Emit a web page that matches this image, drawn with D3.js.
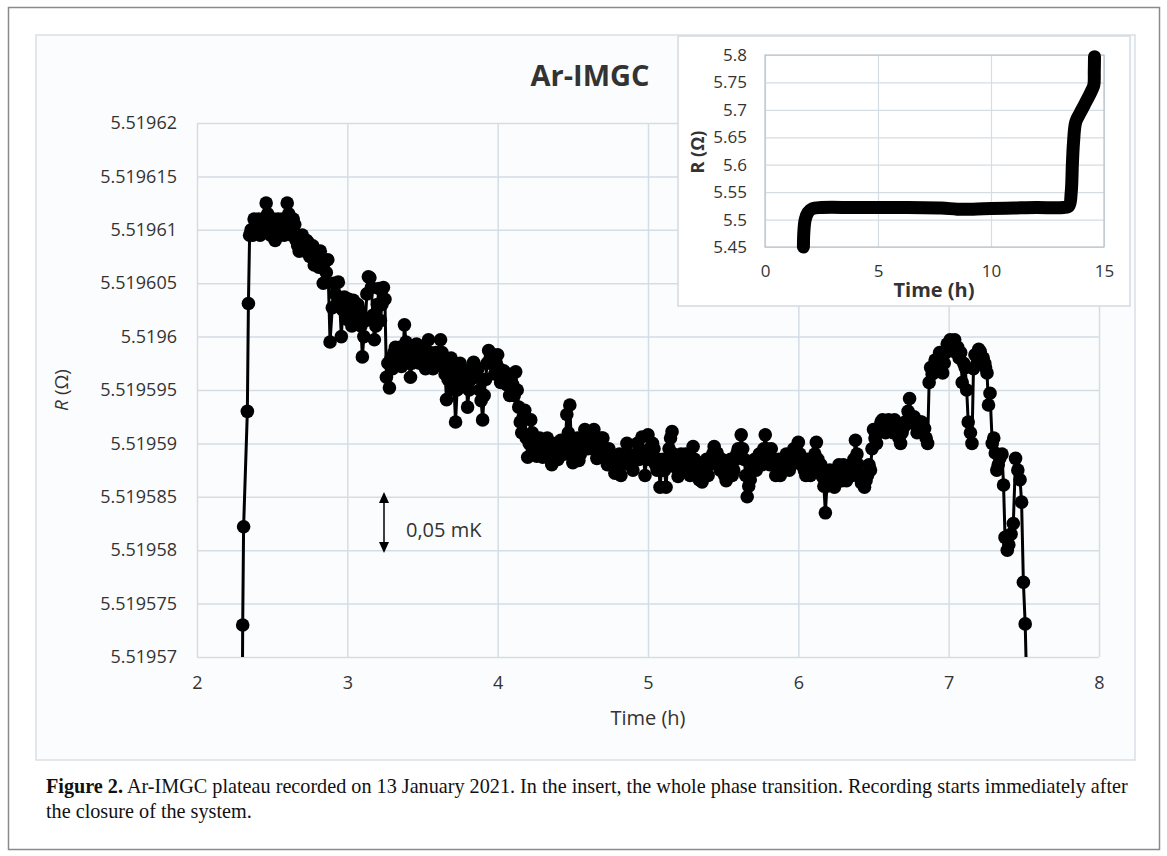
<!DOCTYPE html>
<html>
<head>
<meta charset="utf-8">
<script src="https://d3js.org/d3.v7.min.js"></script>
<style>
body { margin: 0; background: #fff; }
svg { display: block; }
</style>
</head>
<body>
<div id="chart"></div>
<script>
// plateau record, time in hours
var timeH = [
  2.300, 2.304, 2.310, 2.335, 2.342, 2.350,
  2.36, 2.37, 2.38, 2.39, 2.40, 2.41, 2.42, 2.43, 2.44, 2.45,
  2.46, 2.47, 2.48, 2.49, 2.50, 2.51, 2.52, 2.53, 2.54, 2.55,
  2.56, 2.57, 2.58, 2.59, 2.60, 2.61, 2.62, 2.63, 2.64, 2.65,
  2.66, 2.67, 2.68, 2.69, 2.70, 2.71, 2.72, 2.73, 2.74, 2.75,
  2.76, 2.77, 2.78, 2.79, 2.80, 2.81, 2.82, 2.83, 2.84, 2.85,
  2.86, 2.87, 2.885,
  2.90, 2.91, 2.92, 2.93, 2.94, 2.95, 2.96, 2.97, 2.98, 2.99,
  3.00, 3.01, 3.02, 3.03, 3.04, 3.05, 3.06, 3.07, 3.08, 3.09,
  3.10, 3.11, 3.12, 3.13, 3.14, 3.15, 3.16, 3.17, 3.18, 3.19,
  3.20, 3.21, 3.22, 3.23, 3.24, 3.25, 3.26, 3.27, 3.28, 3.29,
  3.30, 3.31, 3.32, 3.33, 3.34, 3.35, 3.36, 3.37, 3.38, 3.39,
  3.40, 3.41, 3.42, 3.43, 3.44, 3.45, 3.46, 3.47, 3.48, 3.49,
  3.50, 3.51, 3.52, 3.53, 3.54, 3.55, 3.56, 3.57, 3.58, 3.59,
  3.60, 3.61, 3.62, 3.63, 3.64, 3.65, 3.66, 3.67, 3.68, 3.69,
  3.70, 3.71, 3.72, 3.73, 3.74, 3.75, 3.76, 3.77, 3.78, 3.79,
  3.80, 3.81, 3.82, 3.83, 3.84, 3.85, 3.86, 3.87, 3.88, 3.89,
  3.90, 3.91, 3.92, 3.93, 3.94, 3.95, 3.96, 3.97, 3.98, 3.99,
  4.00, 4.01, 4.02, 4.03, 4.04, 4.05, 4.06, 4.07, 4.08, 4.09,
  4.10, 4.11, 4.12, 4.13, 4.14, 4.15, 4.16, 4.17, 4.18, 4.19,
  4.20, 4.21, 4.22, 4.23, 4.24, 4.25, 4.26, 4.27, 4.28, 4.29,
  4.30, 4.31, 4.32, 4.33, 4.34, 4.35, 4.36, 4.37, 4.38, 4.39,
  4.40, 4.41, 4.42, 4.43, 4.44, 4.45, 4.46, 4.47, 4.48, 4.49,
  4.50, 4.51, 4.52, 4.53, 4.54, 4.55, 4.56, 4.57, 4.58, 4.59,
  4.60, 4.61, 4.62, 4.63, 4.64, 4.65, 4.66, 4.67, 4.68, 4.69,
  4.70, 4.71, 4.72, 4.73, 4.74, 4.75, 4.76, 4.77, 4.78, 4.79,
  4.80, 4.81, 4.82, 4.83, 4.84, 4.85, 4.86, 4.87, 4.88, 4.89,
  4.90, 4.91, 4.92, 4.93, 4.94, 4.95, 4.96, 4.97, 4.98, 4.99,
  5.00, 5.01, 5.02, 5.03, 5.04, 5.05, 5.06, 5.07, 5.08, 5.09,
  5.10, 5.11, 5.12, 5.13, 5.14, 5.15, 5.16, 5.17, 5.18, 5.19,
  5.20, 5.21, 5.22, 5.23, 5.24, 5.25, 5.26, 5.27, 5.28, 5.29,
  5.30, 5.31, 5.32, 5.33, 5.34, 5.35, 5.36, 5.37, 5.38, 5.39,
  5.40, 5.41, 5.42, 5.43, 5.44, 5.45, 5.46, 5.47, 5.48, 5.49,
  5.50, 5.51, 5.52, 5.53, 5.54, 5.55, 5.56, 5.57, 5.58, 5.59,
  5.60, 5.61, 5.62, 5.63, 5.64, 5.65, 5.66, 5.67, 5.68, 5.69,
  5.70, 5.71, 5.72, 5.73, 5.74, 5.75, 5.76, 5.77, 5.78, 5.79,
  5.80, 5.81, 5.82, 5.83, 5.84, 5.85, 5.86, 5.87, 5.88, 5.89,
  5.90, 5.91, 5.92, 5.93, 5.94, 5.95, 5.96, 5.97, 5.98, 5.99,
  6.00, 6.01, 6.02, 6.03, 6.04, 6.05, 6.06, 6.07, 6.08, 6.09,
  6.10, 6.11, 6.12, 6.13, 6.14, 6.15, 6.16, 6.17, 6.18, 6.19,
  6.20, 6.21, 6.22, 6.23, 6.24, 6.25, 6.26, 6.27, 6.28, 6.29,
  6.30, 6.31, 6.32, 6.33, 6.34, 6.35, 6.36, 6.37, 6.38, 6.39,
  6.40, 6.41, 6.42, 6.43, 6.44, 6.45, 6.46, 6.47, 6.48, 6.49,
  6.50, 6.51, 6.52, 6.53, 6.54, 6.55, 6.56, 6.57, 6.58, 6.59,
  6.60, 6.61, 6.62, 6.63, 6.64, 6.65, 6.66, 6.67, 6.68, 6.69,
  6.70, 6.71, 6.72, 6.73, 6.74, 6.75, 6.76, 6.77, 6.78, 6.79,
  6.80, 6.81, 6.82, 6.83, 6.84, 6.85, 6.86,
  6.87, 6.88, 6.89, 6.90, 6.91, 6.92, 6.93, 6.94, 6.95, 6.96, 6.97, 6.98, 6.99,
  7.00, 7.01, 7.02, 7.03, 7.04, 7.05, 7.06, 7.07, 7.08,
  7.09, 7.10, 7.11, 7.12, 7.13, 7.145, 7.155, 7.165, 7.175, 7.19,
  7.20, 7.21, 7.22, 7.23, 7.24, 7.245, 7.255, 7.265, 7.275, 7.29,
  7.30, 7.31, 7.32, 7.33, 7.34, 7.355, 7.365, 7.375, 7.39, 7.40,
  7.415, 7.43, 7.445, 7.46, 7.475, 7.485, 7.497, 7.509, 7.525
];

// resistance in ohm, same order as timeH
var resistance = [
  5.519562, 5.519573, 5.5195822, 5.519593, 5.5196031, 5.5196095,
  5.51961, 5.5196095, 5.519611, 5.5196105, 5.51961, 5.519611, 5.5196095, 5.51961, 5.519611, 5.5196105,
  5.5196125, 5.5196115, 5.519611, 5.5196095, 5.51961, 5.519611, 5.519609, 5.51961, 5.519611, 5.5196095,
  5.51961, 5.519611, 5.5196095, 5.5196105, 5.5196125, 5.5196115, 5.51961, 5.5196095, 5.519611, 5.5196105,
  5.519609, 5.5196085, 5.519608, 5.519609, 5.5196095, 5.5196085, 5.519608, 5.519609, 5.5196088, 5.5196075,
  5.5196075, 5.5196085, 5.5196067, 5.5196078, 5.5196075, 5.5196065, 5.519608, 5.5196065, 5.519605, 5.519607,
  5.519606, 5.5196072, 5.5195995,
  5.5196027, 5.519605, 5.519604, 5.519603, 5.5196051, 5.519603, 5.5196, 5.5196025, 5.5196037, 5.519602,
  5.5196016, 5.5196035, 5.519602, 5.519601, 5.5196034, 5.5196025, 5.5196017, 5.519603, 5.5196025, 5.519601,
  5.5195981, 5.5196, 5.5196015, 5.519604, 5.5196056, 5.5196055, 5.5196046, 5.519602, 5.5195997, 5.519601,
  5.519603, 5.5196045, 5.5196015, 5.519603, 5.5196046, 5.5196035, 5.5195962, 5.5195975, 5.5195952, 5.519598,
  5.519597, 5.5195985, 5.519599, 5.519598, 5.5195978, 5.519599, 5.5195972, 5.5195985, 5.5196011, 5.5195995,
  5.5195985, 5.5195975, 5.5195962, 5.5195975, 5.519598, 5.519599, 5.5195993, 5.519598, 5.5195975, 5.519599,
  5.5195985, 5.5195975, 5.519597, 5.5195985, 5.5195997, 5.5195985, 5.519598, 5.519597, 5.5195972, 5.5195985,
  5.5195985, 5.5195975, 5.5195997, 5.5195985, 5.5195978, 5.5195965, 5.5195941, 5.519596, 5.519597, 5.519598,
  5.5195965, 5.519595, 5.519592, 5.519595, 5.519596, 5.5195975, 5.519597, 5.519596, 5.5195955, 5.5195965,
  5.5195934, 5.519595, 5.519596, 5.519597, 5.5195976, 5.5195965, 5.5195962, 5.519597, 5.519595, 5.519594,
  5.5195922, 5.5195945, 5.519596, 5.5195975, 5.5195987, 5.519598, 5.5195975, 5.5195983, 5.5195965, 5.5195975,
  5.5195983, 5.519597, 5.5195957, 5.5195965, 5.5195968, 5.519596, 5.5195955, 5.5195965, 5.5195945, 5.5195955,
  5.5195955, 5.5195945, 5.5195967, 5.519595, 5.5195934, 5.519592, 5.519591, 5.5195925, 5.5195931, 5.5195905,
  5.5195887, 5.51959, 5.5195922, 5.519591, 5.51959, 5.5195895, 5.5195888, 5.5195895, 5.5195905, 5.5195895,
  5.5195887, 5.5195895, 5.5195902, 5.5195905, 5.519589, 5.5195885, 5.519588, 5.519589, 5.5195895, 5.51959,
  5.5195885, 5.519589, 5.5195903, 5.5195895, 5.519589, 5.51959, 5.5195927, 5.519591, 5.5195936, 5.51959,
  5.5195882, 5.519589, 5.5195895, 5.5195905, 5.5195884, 5.519589, 5.51959, 5.5195905, 5.5195913, 5.51959,
  5.5195895, 5.5195908, 5.5195903, 5.5195895, 5.5195913, 5.51959, 5.5195886, 5.519589, 5.5195894, 5.5195905,
  5.5195905, 5.5195895, 5.5195885, 5.519588, 5.5195895, 5.519589, 5.519588, 5.5195885, 5.5195872, 5.5195878,
  5.5195885, 5.519589, 5.519587, 5.519588, 5.519589, 5.5195885, 5.51959, 5.519589, 5.519588, 5.5195885,
  5.5195875, 5.5195885, 5.519589, 5.51959, 5.5195885, 5.519589, 5.5195906, 5.519589, 5.519587, 5.5195885,
  5.5195908, 5.5195895, 5.5195885, 5.51959, 5.5195895, 5.519588, 5.5195875, 5.5195885, 5.5195859, 5.5195875,
  5.5195885, 5.5195875, 5.5195859, 5.519588, 5.5195895, 5.5195905, 5.5195911, 5.519589, 5.5195878, 5.5195885,
  5.5195869, 5.519588, 5.519589, 5.5195885, 5.5195875, 5.519589, 5.5195885, 5.5195875, 5.519587, 5.519588,
  5.5195897, 5.5195885, 5.519588, 5.5195875, 5.5195866, 5.5195875, 5.5195864, 5.519587, 5.519588, 5.5195885,
  5.519587, 5.519588, 5.5195885, 5.519589, 5.5195897, 5.5195885, 5.5195891, 5.519588, 5.5195875, 5.5195885,
  5.519588, 5.519587, 5.5195865, 5.5195875, 5.519588, 5.5195885, 5.519587, 5.5195875, 5.5195885, 5.519589,
  5.5195895, 5.519589, 5.5195908, 5.5195895, 5.5195885, 5.519587, 5.519585, 5.519586, 5.5195866, 5.5195875,
  5.519588, 5.5195885, 5.5195875, 5.519588, 5.519589, 5.5195885, 5.519588, 5.5195895, 5.5195908, 5.5195895,
  5.5195887, 5.519588, 5.5195895, 5.5195885, 5.519588, 5.519587, 5.5195875, 5.5195885, 5.519587, 5.5195875,
  5.5195885, 5.519588, 5.519589, 5.5195885, 5.5195875, 5.519588, 5.5195885, 5.5195895, 5.519589, 5.5195885,
  5.5195901, 5.519589, 5.519588, 5.5195885, 5.5195875, 5.519587, 5.5195885, 5.519588, 5.519587, 5.5195875,
  5.5195885, 5.519589, 5.5195901, 5.5195885, 5.5195875, 5.519588, 5.5195869, 5.519586, 5.5195835, 5.519586,
  5.519587, 5.5195875, 5.5195865, 5.519587, 5.5195859, 5.5195865, 5.5195875, 5.519588, 5.519587, 5.5195865,
  5.519588, 5.5195875, 5.5195865, 5.519587, 5.5195875, 5.519588, 5.519587, 5.5195885, 5.5195903, 5.519589,
  5.519588, 5.519587, 5.5195863, 5.519587, 5.5195859, 5.5195865, 5.519587, 5.519588, 5.5195875, 5.5195895,
  5.5195913, 5.5195905, 5.51959, 5.519591, 5.5195915, 5.519592, 5.5195922, 5.5195915, 5.519591, 5.5195915,
  5.5195922, 5.519592, 5.5195915, 5.519591, 5.5195922, 5.5195915, 5.519591, 5.5195905, 5.51959, 5.519591,
  5.5195915, 5.519592, 5.519592, 5.519593, 5.5195942, 5.5195925, 5.5195919, 5.5195925, 5.519592, 5.519591,
  5.5195915, 5.519592, 5.519592, 5.5195915, 5.5195914, 5.5195905, 5.51959,
  5.5195957, 5.5195971, 5.5195965, 5.5195966, 5.5195978, 5.5195975, 5.519597, 5.5195985, 5.519598, 5.5195966, 5.5195975, 5.5195985, 5.5195993,
  5.519599, 5.5195997, 5.5195995, 5.5195988, 5.5195997, 5.5195985, 5.519599, 5.519598, 5.5195985,
  5.5195957, 5.5195975, 5.5195971, 5.519595, 5.519592, 5.519591, 5.51959, 5.519597, 5.5195983, 5.5195975,
  5.5195988, 5.5195986, 5.5195978, 5.519598, 5.5195975, 5.5195971, 5.5195966, 5.5195936, 5.5195947, 5.51959,
  5.5195905, 5.5195891, 5.5195875, 5.519588, 5.5195886, 5.519589, 5.5195861, 5.5195812, 5.51958, 5.5195805,
  5.5195815, 5.5195825, 5.5195886, 5.5195875, 5.5195866, 5.5195845, 5.519577, 5.5195731, 5.519564
];

var xTicks = [2, 3, 4, 5, 6, 7, 8];
var yTicks = [5.51957, 5.519575, 5.51958, 5.519585, 5.51959, 5.519595, 5.5196, 5.519605, 5.51961, 5.519615, 5.51962];

// insert: whole phase transition
var insetTime = [1.70, 1.72, 1.78, 1.90, 2.10, 2.50, 4.00, 6.00, 7.80, 8.50, 9.20, 10.00, 11.00, 12.00, 13.20, 13.45, 13.55, 13.60, 13.65, 13.75, 13.95, 14.13, 14.43, 14.55, 14.57, 14.58];
var insetR = [5.450, 5.478, 5.500, 5.513, 5.520, 5.522, 5.522, 5.522, 5.521, 5.519, 5.519, 5.520, 5.521, 5.522, 5.522, 5.525, 5.550, 5.600, 5.640, 5.678, 5.695, 5.709, 5.733, 5.745, 5.770, 5.797];
var insetXTicks = [0, 5, 10, 15];
var insetYTicks = [5.45, 5.5, 5.55, 5.6, 5.65, 5.7, 5.75, 5.8];

var captionLines = [
  "Ar-IMGC plateau recorded on 13 January 2021. In the insert, the whole phase transition. Recording starts immediately after",
  "the closure of the system."
];

var W = 1167, H = 856;
var gridColor = '#d5dde4';
var textColor = '#333';
var sans = "'Open Sans', sans-serif";

var svg = d3.select('#chart').append('svg')
  .attr('width', W)
  .attr('height', H);

// figure frame and chart panel
svg.append('rect')
  .attr('x', 8.5).attr('y', 7.5)
  .attr('width', 1151).attr('height', 842)
  .attr('fill', '#fff')
  .attr('stroke', '#8a8a8a')
  .attr('stroke-width', 1.5);

svg.append('rect')
  .attr('x', 36).attr('y', 35)
  .attr('width', 1099).attr('height', 725)
  .attr('fill', '#fbfcfd')
  .attr('stroke', '#d9e0e6')
  .attr('stroke-width', 1.5);

var plot = {left: 197, right: 1099, top: 123, bottom: 657};

var x = d3.scaleLinear().domain([2, 8]).range([plot.left, plot.right]);
var y = d3.scaleLinear().domain([5.51957, 5.51962]).range([plot.bottom, plot.top]);

var yAxis = svg.append('g')
  .attr('transform', 'translate(' + plot.left + ',0)')
  .call(d3.axisLeft(y)
    .tickValues(yTicks)
    .tickSize(-(plot.right - plot.left))
    .tickPadding(20)
    .tickFormat(d3.format('.6~f')));

var xAxis = svg.append('g')
  .attr('transform', 'translate(0,' + plot.bottom + ')')
  .call(d3.axisBottom(x)
    .tickValues(xTicks)
    .tickSize(-(plot.bottom - plot.top))
    .tickPadding(19)
    .tickFormat(d3.format('d')));

[xAxis, yAxis].forEach(function(ax){
  ax.select('.domain').remove();
  ax.selectAll('.tick line')
    .attr('stroke', gridColor)
    .attr('stroke-width', 1.5);
  ax.selectAll('.tick text')
    .attr('fill', textColor)
    .style('font-family', sans)
    .style('font-size', '18px');
});

// data, clipped to the plot area
svg.append('clipPath').attr('id', 'clip')
  .append('rect')
  .attr('x', plot.left).attr('y', plot.top)
  .attr('width', plot.right - plot.left)
  .attr('height', plot.bottom - plot.top);

var points = d3.zip(timeH, resistance).map(function(p){ return {t: p[0], r: p[1]}; });

var dataLayer = svg.append('g').attr('clip-path', 'url(#clip)');

dataLayer.append('path')
  .datum(points)
  .attr('fill', 'none')
  .attr('stroke', '#000')
  .attr('stroke-width', 3)
  .attr('stroke-linejoin', 'round')
  .attr('d', d3.line()
    .x(function(d){ return x(d.t); })
    .y(function(d){ return y(d.r); }));

dataLayer.selectAll('circle.pt')
  .data(points)
  .enter()
  .append('circle')
  .attr('class', 'pt')
  .attr('cx', function(d){ return x(d.t); })
  .attr('cy', function(d){ return y(d.r); })
  .attr('r', 6.8)
  .attr('fill', '#000');

// axis titles and chart title
svg.append('text')
  .attr('x', (plot.left + plot.right) / 2)
  .attr('y', 725)
  .attr('text-anchor', 'middle')
  .attr('fill', textColor)
  .style('font-family', sans)
  .style('font-size', '20px')
  .text('Time (h)');

var yTitle = svg.append('text')
  .attr('transform', 'translate(68,390) rotate(-90)')
  .attr('text-anchor', 'middle')
  .attr('fill', textColor)
  .style('font-family', sans)
  .style('font-size', '19px');
yTitle.append('tspan').style('font-style', 'italic').text('R');
yTitle.append('tspan').text(' (Ω)');

svg.append('text')
  .attr('x', 590)
  .attr('y', 86)
  .attr('text-anchor', 'middle')
  .attr('fill', textColor)
  .style('font-family', sans)
  .style('font-size', '29px')
  .style('font-weight', 'bold')
  .text('Ar-IMGC');

// 0,05 mK scale arrow
var arrowX = 384;
svg.append('line')
  .attr('x1', arrowX).attr('x2', arrowX)
  .attr('y1', 500).attr('y2', 546)
  .attr('stroke', '#000')
  .attr('stroke-width', 1.5);
svg.append('path')
  .attr('d', 'M' + arrowX + ',492 L' + (arrowX - 5) + ',503 L' + (arrowX + 5) + ',503 Z')
  .attr('fill', '#000');
svg.append('path')
  .attr('d', 'M' + arrowX + ',553 L' + (arrowX - 5) + ',542 L' + (arrowX + 5) + ',542 Z')
  .attr('fill', '#000');
svg.append('text')
  .attr('x', 406)
  .attr('y', 537)
  .attr('fill', textColor)
  .style('font-family', sans)
  .style('font-size', '20px')
  .text('0,05 mK');

// insert chart
var ins = {left: 765, right: 1104, top: 55, bottom: 247};

svg.append('rect')
  .attr('x', 678).attr('y', 36)
  .attr('width', 452).attr('height', 270)
  .attr('fill', '#fff')
  .attr('stroke', '#d3dae1')
  .attr('stroke-width', 1.5);

var ix = d3.scaleLinear().domain([0, 15]).range([ins.left, ins.right]);
var iy = d3.scaleLinear().domain([5.45, 5.8]).range([ins.bottom, ins.top]);

var iyAxis = svg.append('g')
  .attr('transform', 'translate(' + ins.left + ',0)')
  .call(d3.axisLeft(iy)
    .tickValues(insetYTicks)
    .tickSize(-(ins.right - ins.left))
    .tickPadding(18)
    .tickFormat(d3.format('.2~f')));

var ixAxis = svg.append('g')
  .attr('transform', 'translate(0,' + ins.bottom + ')')
  .call(d3.axisBottom(ix)
    .tickValues(insetXTicks)
    .tickSize(-(ins.bottom - ins.top))
    .tickPadding(18)
    .tickFormat(d3.format('d')));

[ixAxis, iyAxis].forEach(function(ax){
  ax.select('.domain').remove();
  ax.selectAll('.tick line')
    .attr('stroke', gridColor)
    .attr('stroke-width', 1.2);
  ax.selectAll('.tick text')
    .attr('fill', textColor)
    .style('font-family', sans)
    .style('font-size', '17px');
});

svg.append('rect')
  .attr('x', ins.left).attr('y', ins.top)
  .attr('width', ins.right - ins.left)
  .attr('height', ins.bottom - ins.top)
  .attr('fill', 'none')
  .attr('stroke', '#b9c2ca')
  .attr('stroke-width', 1.2);

var insetPoints = d3.zip(insetTime, insetR).map(function(p){ return {t: p[0], r: p[1]}; });

svg.append('path')
  .datum(insetPoints)
  .attr('fill', 'none')
  .attr('stroke', '#000')
  .attr('stroke-width', 13)
  .attr('stroke-linejoin', 'round')
  .attr('stroke-linecap', 'round')
  .attr('d', d3.line()
    .curve(d3.curveCatmullRom)
    .x(function(d){ return ix(d.t); })
    .y(function(d){ return iy(d.r); }));

svg.append('text')
  .attr('x', 934)
  .attr('y', 297)
  .attr('text-anchor', 'middle')
  .attr('fill', textColor)
  .style('font-family', sans)
  .style('font-size', '20px')
  .style('font-weight', 'bold')
  .text('Time (h)');

svg.append('text')
  .attr('transform', 'translate(704,152) rotate(-90)')
  .attr('text-anchor', 'middle')
  .attr('fill', textColor)
  .style('font-family', sans)
  .style('font-size', '18px')
  .style('font-weight', 'bold')
  .text('R (Ω)');

// caption
var serif = "'Liberation Serif', 'Times New Roman', serif";
var cap = svg.append('g')
  .style('font-family', serif)
  .style('font-size', '20.2px')
  .attr('fill', '#111');

var line1 = cap.append('text').attr('x', 46).attr('y', 793);
line1.append('tspan').style('font-weight', 'bold').text('Figure 2.');
line1.append('tspan').text(' ' + captionLines[0]);

cap.append('text')
  .attr('x', 46).attr('y', 818)
  .text(captionLines[1]);
</script>
</body>
</html>
